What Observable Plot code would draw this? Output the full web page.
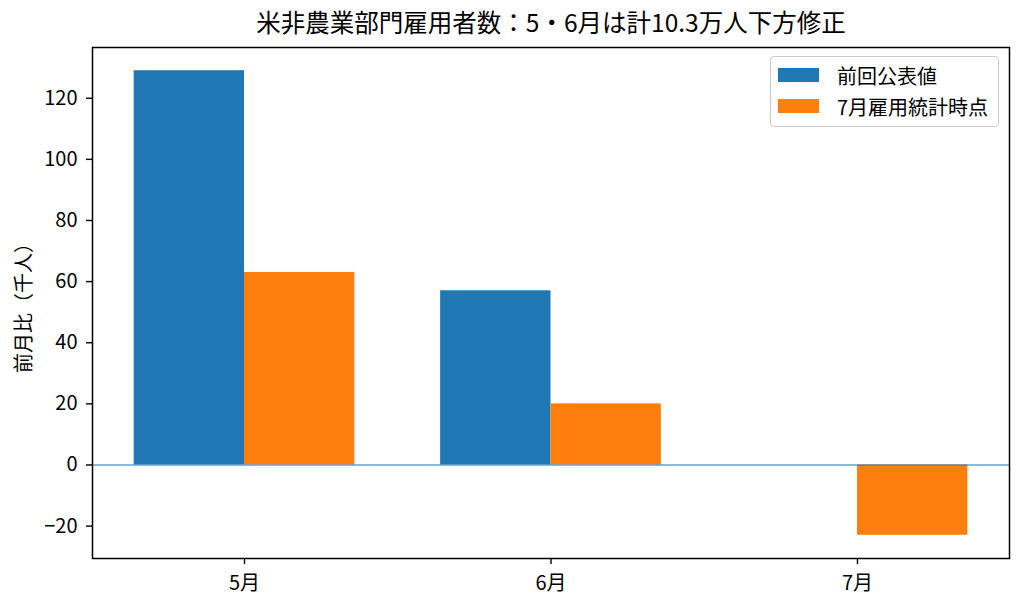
<!DOCTYPE html>
<html>
<head>
<meta charset="utf-8">
<script src="https://cdn.jsdelivr.net/npm/d3@7"></script>
<script src="https://cdn.jsdelivr.net/npm/@observablehq/plot@0.6"></script>
<style>
  html, body { margin: 0; padding: 0; background: #fff; }
  #wrap { position: relative; width: 1024px; height: 609px; font-family: "Noto Sans CJK JP", "Noto Sans", sans-serif; }
  #legend { position: absolute; left: 770px; top: 56px; width: 227px; height: 69px; border: 1px solid #cccccc; border-radius: 4px; background: rgba(255,255,255,0.8); }
  .row { position: absolute; left: 0; height: 24px; display: flex; align-items: center; font-size: 20px; color: #000; white-space: nowrap; }
  .sw { width: 41px; height: 14px; margin-left: 7px; margin-right: 18px; }
</style>
</head>
<body>
<div id="wrap"></div>
<script>
const title = "米非農業部門雇用者数：5・6月は計10.3万人下方修正";
const yLabel = "前月比（千人）";
const months = ["5月", "6月", "7月"];
const prevValues = [129, 57, null];
const julyValues = [63, 20, -23];
const seriesNames = ["前回公表値", "7月雇用統計時点"];
const seriesColors = ["#1f77b4", "#ff7f0e"];
const yTicks = [-20, 0, 20, 40, 60, 80, 100, 120];

const barW = 0.36;
const prevData = months.map((m, i) => ({i, m, v: prevValues[i]})).filter(d => d.v != null);
const julyData = months.map((m, i) => ({i, m, v: julyValues[i]})).filter(d => d.v != null);

const allVals = [...prevValues, ...julyValues].filter(v => v != null).concat([0]);
const vMin = d3.min(allVals), vMax = d3.max(allVals);
const pad = (vMax - vMin) * 0.05;
const xPad = (months.length - 1 + 2 * barW) * 0.05;

const chart = Plot.plot({
  width: 1024,
  height: 609,
  marginLeft: 92,
  marginRight: 15,
  marginTop: 47,
  marginBottom: 51,
  style: {fontFamily: "Noto Sans CJK JP, Noto Sans, sans-serif", fontSize: "20px", color: "#000", background: "#fff"},
  x: {type: "linear", domain: [-barW - xPad, months.length - 1 + barW + xPad]},
  y: {domain: [vMin - pad, vMax + pad]},
  marks: [
    Plot.rectY(prevData, {x1: d => d.i - barW, x2: d => d.i, y1: 0, y2: d => d.v, fill: seriesColors[0]}),
    Plot.rectY(julyData, {x1: d => d.i, x2: d => d.i + barW, y1: 0, y2: d => d.v, fill: seriesColors[1]}),
    Plot.ruleY([0], {stroke: seriesColors[0], strokeWidth: 1.2}),
    Plot.frame({stroke: "#000", strokeWidth: 1.5}),
    Plot.axisY(yTicks, {tickSize: 6, tickPadding: 9, fontSize: 20, label: null, strokeWidth: 1.4}),
    Plot.axisX(months.map((m, i) => i), {tickSize: 6, tickPadding: 11, fontSize: 20, label: null, strokeWidth: 1.4, tickFormat: i => months[i]}),
    Plot.text([yLabel], {text: d => d, frameAnchor: "left", dx: -68, rotate: -90, textAnchor: "middle", lineAnchor: "middle", fontSize: 20}),
    Plot.text([title], {text: d => d, frameAnchor: "top", dy: -23, textAnchor: "middle", lineAnchor: "middle", fontSize: 24.5})
  ]
});

const wrap = document.getElementById("wrap");
wrap.appendChild(chart);

const legend = document.createElement("div");
legend.id = "legend";
seriesNames.forEach((name, k) => {
  const row = document.createElement("div");
  row.className = "row";
  row.style.top = (k === 0 ? 6 : 37) + "px";
  const sw = document.createElement("div");
  sw.className = "sw";
  sw.style.background = seriesColors[k];
  const t = document.createElement("span");
  t.textContent = name;
  row.appendChild(sw);
  row.appendChild(t);
  legend.appendChild(row);
});
wrap.appendChild(legend);
</script>
</body>
</html>
